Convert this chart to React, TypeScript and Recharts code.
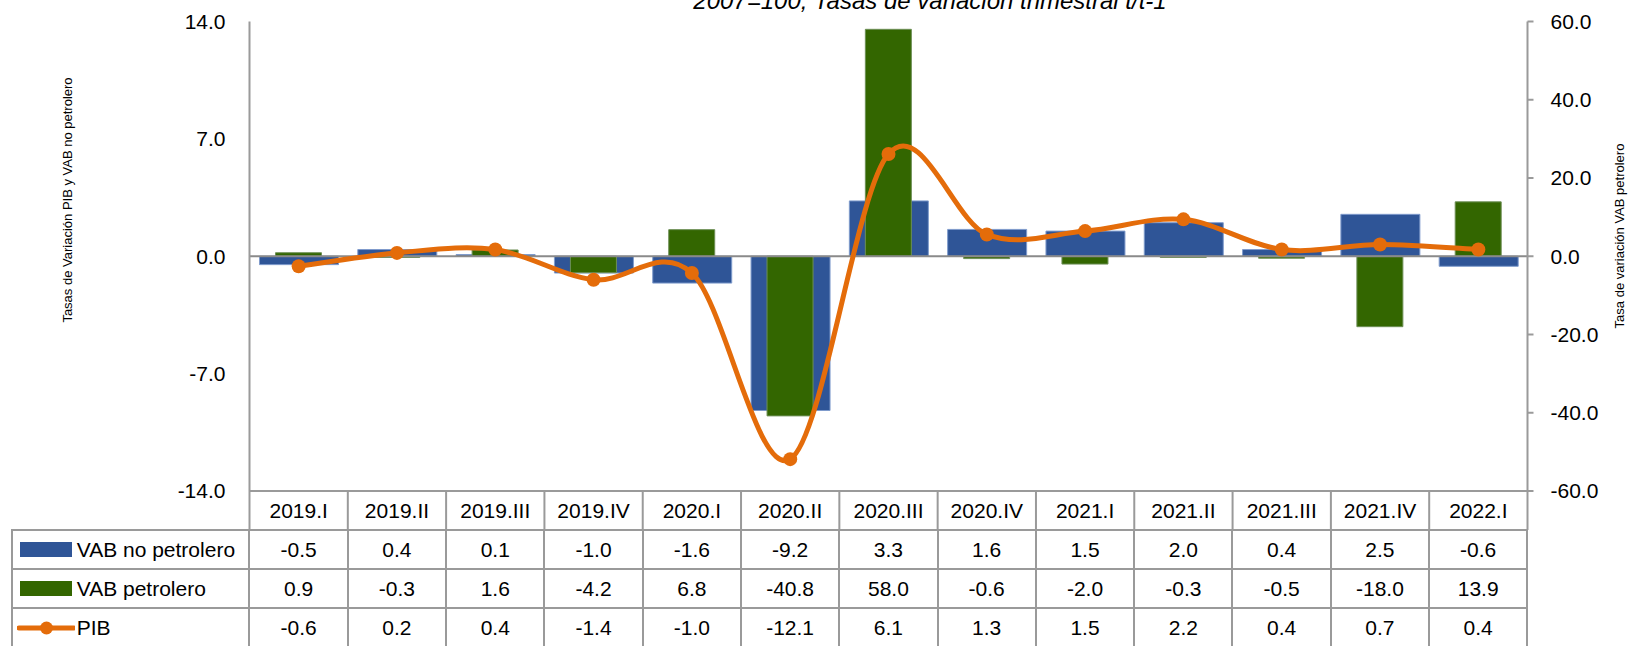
import { ComposedChart, Bar, Line, XAxis, YAxis, ReferenceLine } from 'recharts';

const categories = ['2019.I', '2019.II', '2019.III', '2019.IV', '2020.I', '2020.II', '2020.III', '2020.IV', '2021.I', '2021.II', '2021.III', '2021.IV', '2022.I'];
const vabNoPetrolero = [-0.5, 0.4, 0.1, -1.0, -1.6, -9.2, 3.3, 1.6, 1.5, 2.0, 0.4, 2.5, -0.6];
const vabPetrolero = [0.9, -0.3, 1.6, -4.2, 6.8, -40.8, 58.0, -0.6, -2.0, -0.3, -0.5, -18.0, 13.9];
const pib = [-0.6, 0.2, 0.4, -1.4, -1.0, -12.1, 6.1, 1.3, 1.5, 2.2, 0.4, 0.7, 0.4];
const leftTicks = [-14, -7, 0, 7, 14];
const rightTicks = [-60, -40, -20, 0, 20, 40, 60];

const BLUE = '#2F5597';
const GREEN = '#336600';
const ORANGE = '#E46C0A';
const GRID = '#9a9a9a';
const FONT = '"Liberation Sans", Arial, sans-serif';

const W = 1630;
const H = 646;
const PLOT_LEFT = 249.5;
const PLOT_RIGHT = 1527.5;
const PLOT_TOP = 21.5;
const PLOT_BOTTOM = 491;
const ROW_H = 39;
const BAND = (PLOT_RIGHT - PLOT_LEFT) / categories.length;

const data = categories.map((c, i) => ({
  periodo: c,
  noPetrolero: vabNoPetrolero[i],
  petrolero: vabPetrolero[i],
  pib: pib[i],
}));

// smoothing like Excel: catmull-rom through the points
const smoothCurve = (context: any) => {
  let pts: number[][] = [];
  return {
    areaStart() {},
    areaEnd() {},
    lineStart() {
      pts = [];
    },
    point(x: number, y: number) {
      pts.push([+x, +y]);
    },
    lineEnd() {
      if (!pts.length) return;
      context.moveTo(pts[0][0], pts[0][1]);
      for (let i = 0; i < pts.length - 1; i++) {
        const p0 = pts[i - 1] || pts[i];
        const p1 = pts[i];
        const p2 = pts[i + 1];
        const p3 = pts[i + 2] || p2;
        context.bezierCurveTo(
          p1[0] + (p2[0] - p0[0]) / 6,
          p1[1] + (p2[1] - p0[1]) / 6,
          p2[0] - (p3[0] - p1[0]) / 6,
          p2[1] - (p3[1] - p1[1]) / 6,
          p2[0],
          p2[1]
        );
      }
    },
  };
};

const HeaderTick = (props: any) => {
  const { x, payload, index } = props;
  const last = index === categories.length - 1;
  return (
    <g>
      <line x1={x - BAND / 2} x2={x - BAND / 2} y1={PLOT_BOTTOM} y2={PLOT_BOTTOM + ROW_H} stroke={GRID} strokeWidth={2} />
      {last && <line x1={x + BAND / 2} x2={x + BAND / 2} y1={PLOT_BOTTOM} y2={PLOT_BOTTOM + ROW_H} stroke={GRID} strokeWidth={2} />}
      <text x={x} y={PLOT_BOTTOM + ROW_H / 2} dy="0.36em" textAnchor="middle" fontSize={21} fontFamily={FONT} fill="#000">
        {payload.value}
      </text>
    </g>
  );
};

const rows = [
  { name: 'VAB no petrolero', values: vabNoPetrolero, kind: 'blue' },
  { name: 'VAB petrolero', values: vabPetrolero, kind: 'green' },
  { name: 'PIB', values: pib, kind: 'line' },
];

function LegendKey({ kind }: { kind: string }) {
  if (kind === 'line') {
    return (
      <svg width={58} height={20} style={{ position: 'absolute', left: 4, top: 9 }}>
        <line x1={2} x2={57} y1={10} y2={10} stroke={ORANGE} strokeWidth={5} strokeLinecap="round" />
        <circle cx={29.5} cy={10} r={6.5} fill={ORANGE} />
      </svg>
    );
  }
  return (
    <div
      style={{
        position: 'absolute',
        left: 7,
        top: 11,
        width: 52,
        height: 15,
        background: kind === 'blue' ? BLUE : GREEN,
      }}
    />
  );
}

export default function App() {
  const tableTop = PLOT_BOTTOM + ROW_H;
  const tableLeft = 11.7;
  return (
    <div style={{ position: 'absolute', left: 0, top: 0, width: W, height: H, background: '#fff', overflow: 'hidden', fontFamily: FONT }}>
      <ComposedChart
        width={W}
        height={H}
        data={data}
        margin={{ top: PLOT_TOP, right: W - PLOT_RIGHT - 80, left: PLOT_LEFT - 80, bottom: H - PLOT_BOTTOM - ROW_H }}
      >
        <XAxis
          xAxisId="main"
          dataKey="periodo"
          height={ROW_H}
          axisLine={{ stroke: GRID, strokeWidth: 2 }}
          tickLine={false}
          tick={<HeaderTick />}
          interval={0}
        />
        <XAxis xAxisId="sec" dataKey="periodo" hide />
        <YAxis
          yAxisId="left"
          width={80}
          domain={[-14, 14]}
          ticks={leftTicks}
          tickFormatter={(v) => Number(v).toFixed(1)}
          axisLine={{ stroke: GRID, strokeWidth: 2 }}
          tickLine={false}
          tickSize={0}
          tickMargin={24}
          tick={{ fontSize: 21, fill: '#000', fontFamily: FONT }}
          allowDataOverflow
        />
        <YAxis
          yAxisId="right"
          orientation="right"
          width={80}
          domain={[-60, 60]}
          ticks={rightTicks}
          tickFormatter={(v) => Number(v).toFixed(1)}
          axisLine={{ stroke: GRID, strokeWidth: 2 }}
          tickLine={{ stroke: GRID, strokeWidth: 2 }}
          tickSize={6}
          tickMargin={17}
          tick={{ fontSize: 21, fill: '#000', fontFamily: FONT }}
          allowDataOverflow
        />
        <Bar
          xAxisId="main"
          yAxisId="left"
          dataKey="noPetrolero"
          name="VAB no petrolero"
          fill={BLUE}
          stroke="#7f9bcc"
          strokeWidth={1}
          barSize={79}
          isAnimationActive={false}
        />
        <Bar
          xAxisId="sec"
          yAxisId="right"
          dataKey="petrolero"
          name="VAB petrolero"
          fill={GREEN}
          stroke="#6d8f55"
          strokeWidth={1}
          barSize={46}
          isAnimationActive={false}
        />
        <ReferenceLine xAxisId="main" yAxisId="left" y={0} stroke="#8a8a8a" strokeWidth={2} />
        <Line
          xAxisId="main"
          yAxisId="left"
          dataKey="pib"
          name="PIB"
          type={smoothCurve as any}
          stroke={ORANGE}
          strokeWidth={5}
          dot={{ r: 7, fill: ORANGE, stroke: ORANGE, strokeWidth: 0 }}
          activeDot={false}
          isAnimationActive={false}
        />
      </ComposedChart>

      <svg width={W} height={H} style={{ position: 'absolute', left: 0, top: 0, pointerEvents: 'none' }}>
        <text x={930} y={9} textAnchor="middle" fontSize={24} fontStyle="italic" fontFamily={FONT} fill="#000">
          2007=100, Tasas de variación trimestral t/t-1
        </text>
        <text
          transform={`translate(67, 200) rotate(-90)`}
          textAnchor="middle"
          dy="0.36em"
          fontSize={13}
          fontFamily={FONT}
          fill="#000"
        >
          Tasas de Variación PIB y VAB no petrolero
        </text>
        <text
          transform={`translate(1619, 236) rotate(-90)`}
          textAnchor="middle"
          dy="0.36em"
          fontSize={13}
          fontFamily={FONT}
          fill="#000"
        >
          Tasa de variación VAB petrolero
        </text>
      </svg>

      <table
        style={{
          position: 'absolute',
          left: tableLeft - 1,
          top: tableTop - 1,
          borderCollapse: 'collapse',
          tableLayout: 'fixed',
          fontSize: 21,
          fontFamily: FONT,
          color: '#000',
        }}
      >
        <colgroup>
          <col style={{ width: PLOT_LEFT - tableLeft }} />
          {categories.map((c) => (
            <col key={c} style={{ width: BAND }} />
          ))}
        </colgroup>
        <tbody>
          {rows.map((r) => (
            <tr key={r.name} style={{ height: ROW_H }}>
              <td style={{ border: `2px solid ${GRID}`, padding: 0, position: 'relative', whiteSpace: 'nowrap' }}>
                <LegendKey kind={r.kind} />
                <span style={{ marginLeft: 64 }}>{r.name}</span>
              </td>
              {r.values.map((v, i) => (
                <td key={i} style={{ border: `2px solid ${GRID}`, padding: 0, textAlign: 'center' }}>
                  {v.toFixed(1)}
                </td>
              ))}
            </tr>
          ))}
        </tbody>
      </table>
    </div>
  );
}
